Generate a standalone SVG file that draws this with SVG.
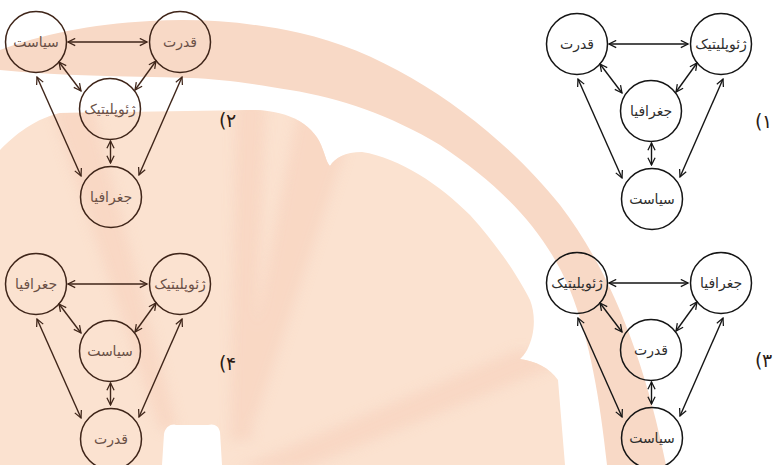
<svg xmlns="http://www.w3.org/2000/svg" width="774" height="465" viewBox="0 0 774 465">
<defs>
<style>
.nb{fill:none;stroke:#3f2519;stroke-width:1.5}
.nk{fill:none;stroke:#151515;stroke-width:1.5}
.tb{font-family:"DejaVu Sans",sans-serif;font-size:14px;fill:#6a5046;text-anchor:middle}
.tk{font-family:"DejaVu Sans",sans-serif;font-size:14px;fill:#2e2e2e;text-anchor:middle}
.cb{stroke:#3f2519;stroke-width:1.4;fill:none;marker-start:url(#ab);marker-end:url(#ab)}
.ck{stroke:#151515;stroke-width:1.4;fill:none;marker-start:url(#ak);marker-end:url(#ak)}
.lb{font-family:"DejaVu Sans",sans-serif;font-size:19px;fill:#2b1b14}
.seg{fill:#f8d6c2}
</style>
<marker id="ab" viewBox="0 0 10 10" refX="9" refY="5" markerWidth="9" markerHeight="9" markerUnits="userSpaceOnUse" orient="auto-start-reverse"><path d="M1,1 L9,5 L1,9" fill="none" stroke="#3f2519" stroke-width="1.4"/></marker>
<marker id="ak" viewBox="0 0 10 10" refX="9" refY="5" markerWidth="9" markerHeight="9" markerUnits="userSpaceOnUse" orient="auto-start-reverse"><path d="M1,1 L9,5 L1,9" fill="none" stroke="#151515" stroke-width="1.4"/></marker>
<clipPath id="segclip"><path d="M0,150 C10,140 30,120 60,113 L250,110 C290,110 315,125 323,150 C326,158 327,163 330,166 C335,158 345,152 362,152 C400,158 440,185 470,215 C500,248 520,280 530,300 C536,315 535,335 527,350 C524,355 522,357 520,359 C535,361 550,368 558,380 L565,465 L222,465 L220,432 C219,426 214,423 208,425 L176,425 C170,423 165,428 164,434 L162,465 L0,465 Z"/></clipPath>
<filter id="soft" x="-50%" y="-10%" width="200%" height="120%"><feGaussianBlur stdDeviation="6"/></filter>
</defs>
<rect width="774" height="465" fill="#ffffff"/>
<g id="watermark">
<path d="M0,50 C40,35 90,24 150,21 C200,18 250,22 300,33 C400,55 500,130 560,205 C610,270 645,360 666,465 L607,465 C600,400 590,340 570,290 C545,230 500,185 440,145 C390,115 340,98 290,90 C250,83 220,79 190,78 C120,76 60,76 0,70 Z" fill="#f8d9c6"/>
<path d="M0,150 C10,140 30,120 60,113 L250,110 C290,110 315,125 323,150 C326,158 327,163 330,166 C335,158 345,152 362,152 C400,158 440,185 470,215 C500,248 520,280 530,300 C536,315 535,335 527,350 C524,355 522,357 520,359 C535,361 550,368 558,380 L565,465 L222,465 L220,432 C219,426 214,423 208,425 L176,425 C170,423 165,428 164,434 L162,465 L0,465 Z" fill="#fbe2d0"/>
<g clip-path="url(#segclip)">
<g filter="url(#soft)" opacity="0.85">
<path class="seg" d="M50,105 L92,105 L178,430 L160,430 Z"/>
<path class="seg" d="M236,100 L266,100 L252,440 L230,440 Z"/>
<path class="seg" d="M300,100 L345,150 L255,420 L238,420 Z"/>
<path class="seg" d="M518,350 L570,360 L300,470 L235,470 Z"/>
</g>
</g>
</g>
<g id="diagram2" transform="translate(36,42)">
<g id="d2-connectors">
<line class="cb" x1="32" y1="0" x2="111" y2="0"/>
<line class="cb" x1="23" y1="20" x2="45" y2="49"/>
<line class="cb" x1="120" y1="19" x2="99" y2="48"/>
<line class="cb" x1="74.5" y1="99" x2="74.5" y2="121"/>
<line class="cb" x1="1" y1="35" x2="45" y2="134"/>
<line class="cb" x1="146" y1="35" x2="103" y2="133"/>
</g>
<g id="d2-siasat"><circle class="nb" cx="0" cy="0" r="30.5"/><text class="tb" x="0" y="5">سیاست</text></g>
<g id="d2-ghodrat"><circle class="nb" cx="144" cy="0" r="30.5"/><text class="tb" x="144" y="5">قدرت</text></g>
<g id="d2-geopolitic"><circle class="nb" cx="74" cy="67" r="30.5"/><text class="tb" x="74" y="72">ژئوپلیتیک</text></g>
<g id="d2-joghrafia"><circle class="nb" cx="75" cy="155" r="30.5"/><text class="tb" x="75" y="160">جغرافیا</text></g>
</g>
<g id="label2"><text class="lb" x="219" y="127">(</text><text class="lb" x="226" y="127">۲</text></g>
<g id="diagram1" transform="translate(577,44)">
<g id="d1-connectors">
<line class="ck" x1="32" y1="0" x2="111" y2="0"/>
<line class="ck" x1="23" y1="20" x2="45" y2="49"/>
<line class="ck" x1="120" y1="19" x2="99" y2="48"/>
<line class="ck" x1="74.5" y1="99" x2="74.5" y2="121"/>
<line class="ck" x1="1" y1="35" x2="45" y2="134"/>
<line class="ck" x1="146" y1="35" x2="103" y2="133"/>
</g>
<g id="d1-ghodrat"><circle class="nk" cx="0" cy="0" r="30.5"/><text class="tk" x="0" y="5">قدرت</text></g>
<g id="d1-geopolitic"><circle class="nk" cx="144" cy="0" r="30.5"/><text class="tk" x="144" y="5">ژئوپلیتیک</text></g>
<g id="d1-joghrafia"><circle class="nk" cx="74" cy="67" r="30.5"/><text class="tk" x="74" y="72">جغرافیا</text></g>
<g id="d1-siasat"><circle class="nk" cx="75" cy="155" r="30.5"/><text class="tk" x="75" y="160">سیاست</text></g>
</g>
<g id="label1"><text class="lb" x="755" y="128">(</text><text class="lb" x="762" y="128">۱</text></g>
<g id="diagram4" transform="translate(36,284)">
<g id="d4-connectors">
<line class="cb" x1="32" y1="0" x2="111" y2="0"/>
<line class="cb" x1="23" y1="20" x2="45" y2="49"/>
<line class="cb" x1="120" y1="19" x2="99" y2="48"/>
<line class="cb" x1="74.5" y1="99" x2="74.5" y2="121"/>
<line class="cb" x1="1" y1="35" x2="45" y2="134"/>
<line class="cb" x1="146" y1="35" x2="103" y2="133"/>
</g>
<g id="d4-joghrafia"><circle class="nb" cx="0" cy="0" r="30.5"/><text class="tb" x="0" y="5">جغرافیا</text></g>
<g id="d4-geopolitic"><circle class="nb" cx="144" cy="0" r="30.5"/><text class="tb" x="144" y="5">ژئوپلیتیک</text></g>
<g id="d4-siasat"><circle class="nb" cx="74" cy="67" r="30.5"/><text class="tb" x="74" y="72">سیاست</text></g>
<g id="d4-ghodrat"><circle class="nb" cx="75" cy="155" r="30.5"/><text class="tb" x="75" y="160">قدرت</text></g>
</g>
<g id="label4"><text class="lb" x="219" y="370">(</text><text class="lb" x="226" y="370">۴</text></g>
<g id="diagram3" transform="translate(577,283)">
<g id="d3-connectors">
<line class="ck" x1="32" y1="0" x2="111" y2="0"/>
<line class="ck" x1="23" y1="20" x2="45" y2="49"/>
<line class="ck" x1="120" y1="19" x2="99" y2="48"/>
<line class="ck" x1="74.5" y1="99" x2="74.5" y2="121"/>
<line class="ck" x1="1" y1="35" x2="45" y2="134"/>
<line class="ck" x1="146" y1="35" x2="103" y2="133"/>
</g>
<g id="d3-geopolitic"><circle class="nk" cx="0" cy="0" r="30.5"/><text class="tk" x="0" y="5">ژئوپلیتیک</text></g>
<g id="d3-joghrafia"><circle class="nk" cx="144" cy="0" r="30.5"/><text class="tk" x="144" y="5">جغرافیا</text></g>
<g id="d3-ghodrat"><circle class="nk" cx="74" cy="67" r="30.5"/><text class="tk" x="74" y="72">قدرت</text></g>
<g id="d3-siasat"><circle class="nk" cx="75" cy="155" r="30.5"/><text class="tk" x="75" y="160">سیاست</text></g>
</g>
<g id="label3"><text class="lb" x="755" y="367">(</text><text class="lb" x="762" y="367">۳</text></g>
</svg>
